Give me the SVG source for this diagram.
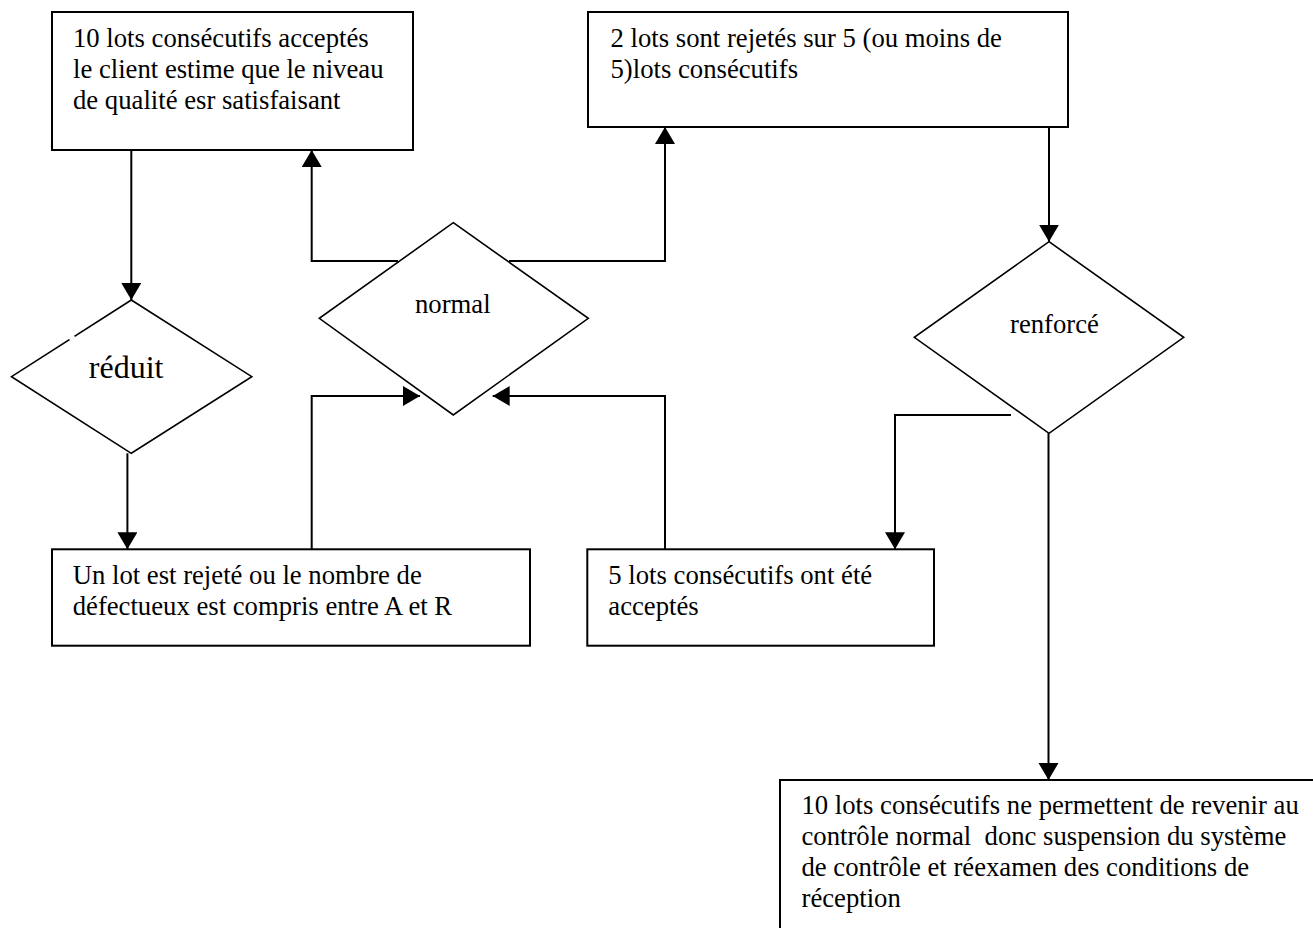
<svg xmlns="http://www.w3.org/2000/svg" width="1313" height="928" viewBox="0 0 1313 928">
<style>
.box{fill:#fff;stroke:#000;stroke-width:2}
.dia{fill:#fff;stroke:#000;stroke-width:1.6}
.t{font-family:"Liberation Serif","Times New Roman",serif;font-size:26.7px;fill:#000;white-space:pre}
.big{font-size:32px}
.c{fill:none;stroke:#000;stroke-width:2}
</style>
<defs>
<marker id="ah" markerUnits="userSpaceOnUse" markerWidth="18" markerHeight="22" refX="17" refY="10" orient="auto">
<path d="M0,0 L17,10 L0,20 z" fill="#000"/>
</marker>
</defs>
<rect width="1313" height="928" fill="#fff"/>
<g id="box-10lots">
<rect class="box" x="52" y="12" width="361" height="138"/>
<text class="t" x="73" y="46.5">10 lots consécutifs acceptés</text>
<text class="t" x="73" y="77.5">le client estime que le niveau</text>
<text class="t" x="73" y="108.5">de qualité esr satisfaisant</text>
</g>
<g id="box-2lots">
<rect class="box" x="588" y="12" width="480" height="115"/>
<text class="t" x="610.5" y="46.5">2 lots sont rejetés sur 5 (ou moins de</text>
<text class="t" x="610.5" y="77.5">5)lots consécutifs</text>
</g>
<g id="dia-reduit">
<polygon class="dia" points="131.3,300 251.8,376.7 131.3,453.3 11.5,376.7"/>
<line x1="74.5" y1="336.3" x2="69.5" y2="339.5" stroke="#fff" stroke-width="2.5"/>
<text class="t big" x="88.8" y="378.3">réduit</text>
</g>
<g id="dia-normal">
<polygon class="dia" points="453.3,222.7 588.3,318.3 453.3,415 319.3,318.3"/>
<text class="t" x="415" y="313">normal</text>
</g>
<g id="dia-renforce">
<polygon class="dia" points="1049,241.7 1183.7,337.3 1049,433.3 914.3,337.3"/>
<text class="t" x="1010" y="333">renforcé</text>
</g>
<g id="box-unlot">
<rect class="box" x="52" y="549.3" width="478" height="96.4"/>
<text class="t" x="72.7" y="583.5">Un lot est rejeté ou le nombre de</text>
<text class="t" x="72.7" y="614.5">défectueux est compris entre A et R</text>
</g>
<g id="box-5lots">
<rect class="box" x="587.3" y="549.3" width="346.7" height="96.4"/>
<text class="t" x="608.3" y="583.5">5 lots consécutifs ont été</text>
<text class="t" x="608.3" y="614.5">acceptés</text>
</g>
<g id="box-final">
<rect class="box" x="780" y="780" width="600" height="200"/>
<text class="t" x="801.5" y="814">10 lots consécutifs ne permettent de revenir au</text>
<text class="t" x="801.5" y="845" xml:space="preserve">contrôle normal  donc suspension du système</text>
<text class="t" x="801.5" y="876">de contrôle et réexamen des conditions de</text>
<text class="t" x="801.5" y="907">réception</text>
</g>
<g id="connectors">
<path class="c" d="M131.3,150 V300" marker-end="url(#ah)"/>
<path class="c" d="M127.4,453.3 V549.3" marker-end="url(#ah)"/>
<path class="c" d="M398,261 H311.7 V150" marker-end="url(#ah)"/>
<path class="c" d="M509,261 H665 V127" marker-end="url(#ah)"/>
<path class="c" d="M311.7,549.3 V396 H420" marker-end="url(#ah)"/>
<path class="c" d="M665,549.3 V396 H492.7" marker-end="url(#ah)"/>
<path class="c" d="M1049,127 V241.7" marker-end="url(#ah)"/>
<path class="c" d="M1011,415 H895 V549.3" marker-end="url(#ah)"/>
<path class="c" d="M1048.5,433.3 V780" marker-end="url(#ah)"/>
</g>
</svg>
